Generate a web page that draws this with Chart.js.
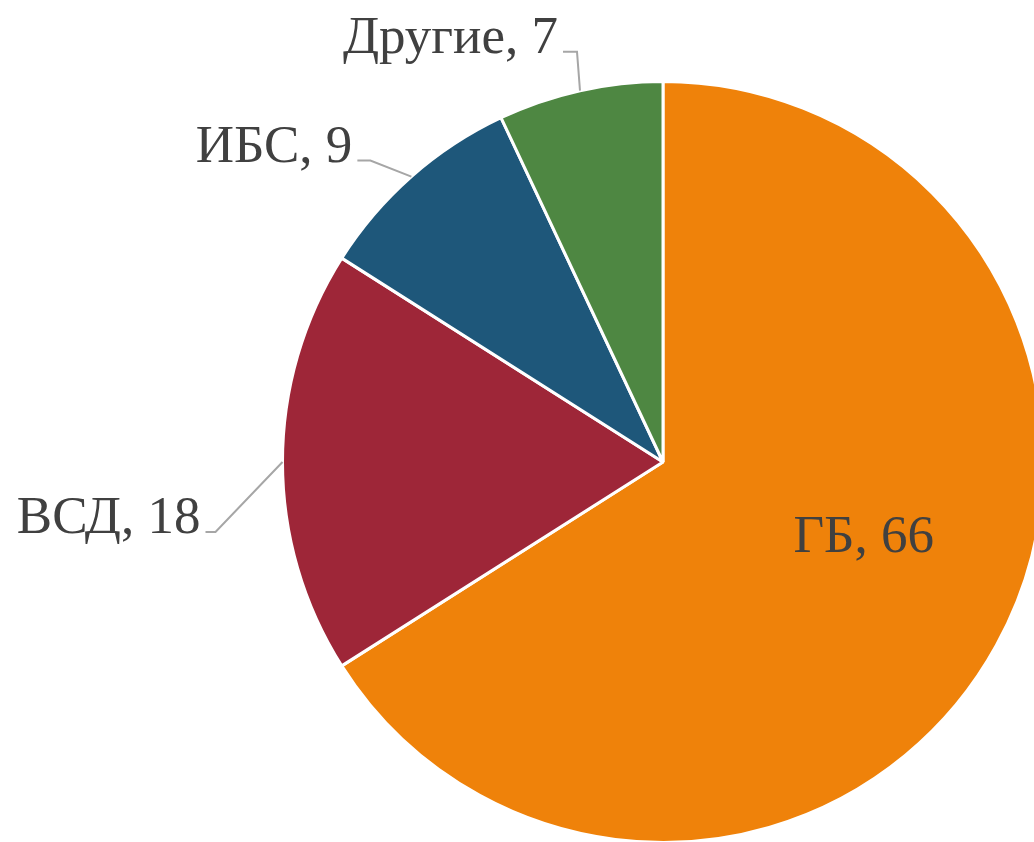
<!DOCTYPE html>
<html>
<head>
<meta charset="utf-8">
<script src="https://cdn.jsdelivr.net/npm/chart.js@4/dist/chart.umd.min.js"></script>
<style>
  html, body { margin: 0; padding: 0; background: #fff; overflow: hidden; }
</style>
</head>
<body>
<canvas id="pieChart" width="1050" height="850"></canvas>
<script>
// данные диаграммы
var categories = ['ГБ', 'ВСД', 'ИБС', 'Другие'];
var values = [66, 18, 9, 7];
var colors = ['#EF820A', '#9E2638', '#1E577A', '#4E8742'];

// подписи: null = внутри сектора, иначе выноска (смещение излома от края, длина полки)
var callouts = [
    null,
    { dx: -67, dy: 70, shelf: 10 },
    { dx: -41, dy: -16, shelf: 13 },
    { dx: -3, dy: -39, shelf: 14 }
];

var labelPlugin = {
    id: 'pieLabels',
    afterDatasetsDraw: function(chart) {
        var ctx = chart.ctx;
        var meta = chart.getDatasetMeta(0);
        ctx.save();
        ctx.font = '53px "Liberation Serif", "Times New Roman", serif';
        ctx.fillStyle = '#404040';
        meta.data.forEach(function(arc, i) {
            var text = categories[i] + ', ' + values[i];
            var mid = (arc.startAngle + arc.endAngle) / 2;
            var c = callouts[i];
            if (!c) {
                var r = arc.outerRadius * 0.56;
                var x = arc.x + Math.cos(mid) * r + 14;
                var y = arc.y + Math.sin(mid) * r - 27;
                ctx.textAlign = 'center';
                ctx.textBaseline = 'middle';
                ctx.fillText(text, x, y);
                return;
            }
            var ex = arc.x + Math.cos(mid) * arc.outerRadius;
            var ey = arc.y + Math.sin(mid) * arc.outerRadius;
            var bx = ex + c.dx;
            var by = ey + c.dy;
            ctx.strokeStyle = '#A6A6A6';
            ctx.lineWidth = 2;
            ctx.beginPath();
            ctx.moveTo(ex, ey);
            ctx.lineTo(bx, by);
            ctx.lineTo(bx - c.shelf, by);
            ctx.stroke();
            ctx.textAlign = 'right';
            ctx.textBaseline = 'alphabetic';
            ctx.fillText(text, bx - c.shelf - 5, by + 1);
        });
        ctx.restore();
    }
};

var ctx = document.getElementById('pieChart').getContext('2d');
var pieChart = new Chart(ctx, {
    type: 'pie',
    data: {
        labels: categories,
        datasets: [{
            data: values,
            backgroundColor: colors,
            borderColor: '#FFFFFF',
            borderWidth: 3
        }]
    },
    options: {
        responsive: false,
        animation: false,
        layout: {
            padding: { left: 281, top: 80, right: 5, bottom: 6 }
        },
        plugins: {
            legend: { display: false },
            tooltip: { enabled: false }
        }
    },
    plugins: [labelPlugin]
});
</script>
</body>
</html>
